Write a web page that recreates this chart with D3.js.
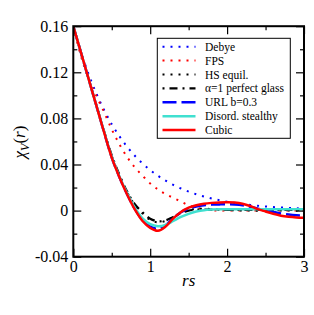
<!DOCTYPE html>
<html>
<head>
<meta charset="utf-8">
<script src="https://cdn.jsdelivr.net/npm/d3@7"></script>
<style>
html,body{margin:0;padding:0;background:#fff;}
svg{display:block;}
svg text{font-family:'Liberation Serif','Times New Roman',Times,'DejaVu Serif',serif !important;}
</style>
</head>
<body>
<svg id="chart" width="314" height="315"></svg>
<script>
// ---------- data ----------
const rs = [0,0.1,0.2,0.3,0.4,0.5,0.6,0.7,0.8,0.9,1.0,1.1,1.2,1.3,1.4,1.5,1.6,1.7,1.8,1.9,2.0,2.1,2.2,2.3,2.4,2.5,2.6,2.7,2.8,2.9,3.0];
const debye = [0.160,0.1375,0.1182,0.1016,0.0873,0.0750,0.0645,0.0554,0.0476,0.0409,0.0352,0.0302,0.0260,0.0223,0.0192,0.0165,0.0142,0.0122,0.0105,0.0090,0.0077,0.0066,0.0057,0.0049,0.0042,0.0036,0.0031,0.0027,0.0023,0.0020,0.0017];
const fps = [0.160,0.134,0.1145,0.0995,0.0855,0.0705,0.0575,0.0465,0.0375,0.0303,0.0236,0.0184,0.0142,0.0111,0.0078,0.0046,0.0026,0.0011,0.0003,0,0,0,0,0,0,0,0,0,0,0,0];
const hsEquil = [0.160,0.137,0.114,0.0913,0.0688,0.0475,0.0305,0.0160,0.0048,-0.0025,-0.0080,-0.0102,-0.0090,-0.0055,-0.0018,0.0005,0.0014,0.0016,0.0014,0.0010,0.0006,0.0003,0.0001,0,-0.0001,0,0,0,0,0,0];
const glass = [0.160,0.137,0.114,0.0915,0.069,0.048,0.031,0.0165,0.0055,-0.0015,-0.0070,-0.0093,-0.0085,-0.0055,-0.0022,0.0,0.0008,0.0009,0.0009,0.0008,0.0007,0.0007,0.0007,0.0007,0.0007,0.0007,0.0007,0.0007,0.0007,0.0007,0.0007];
const url = [0.160,0.137,0.114,0.091,0.068,0.046,0.029,0.0142,0.0015,-0.0083,-0.0138,-0.0158,-0.0128,-0.0066,-0.0014,0.0018,0.0036,0.0047,0.0052,0.0054,0.0055,0.0053,0.0047,0.0034,0.0017,0.0002,-0.0012,-0.0025,-0.0034,-0.0040,-0.0043];
const stealthy = [0.160,0.137,0.114,0.091,0.0685,0.0465,0.0295,0.0150,0.0025,-0.0068,-0.0118,-0.0136,-0.0125,-0.0090,-0.0055,-0.0028,-0.0008,0.0004,0.0009,0.0011,0.0011,0.0011,0.0011,0.0011,0.0011,0.0011,0.0011,0.0011,0.0011,0.0011,0.0011];
const cubic = [0.160,0.137,0.114,0.091,0.068,0.046,0.029,0.014,0.001,-0.009,-0.015,-0.0175,-0.0138,-0.0068,-0.0012,0.0025,0.0047,0.0060,0.0067,0.0071,0.0072,0.0070,0.0060,0.0040,0.0013,-0.0008,-0.0028,-0.0044,-0.0054,-0.0060,-0.0063];

const seriesNames = ["Debye","FPS","HS equil.","\u03b1=1 perfect glass","URL b=0.3","Disord. stealthy","Cubic"];
const xMajorTicks = [0,1,2,3];
const xMinorTicks = [0.5,1.5,2.5];
const yMajorTicks = [-0.04,0,0.04,0.08,0.12,0.16];
const yMinorTicks = [-0.02,0.02,0.06,0.10,0.14];
const yTickLabels = ["-0.04","0","0.04","0.08","0.12","0.16"];

// ---------- styles ----------
const styles = [
  {color:"#0000ff", width:2, dash:"2,6"},
  {color:"#ff0000", width:2, dash:"2,6"},
  {color:"#000000", width:2, dash:"2,6"},
  {color:"#000000", width:2.2, dash:"2,5,8,5"},
  {color:"#0000ff", width:2.5, dash:"14,5"},
  {color:"#40e0d0", width:2.5, dash:null},
  {color:"#ff0000", width:2.5, dash:null}
];
const allSeries = [debye,fps,hsEquil,glass,url,stealthy,cubic];
const FONT = "'Liberation Serif','Times New Roman',Times,'DejaVu Serif',serif";

const svg = d3.select("#chart");
const L = 73.3, R = 304, T = 26.2, B = 256.7;
const x = d3.scaleLinear().domain([0,3]).range([L,R]);
const y = d3.scaleLinear().domain([-0.04,0.16]).range([B,T]);

svg.append("defs").append("clipPath").attr("id","clip")
  .append("rect").attr("x",L).attr("y",T).attr("width",R-L).attr("height",B-T);

const line = d3.line().x((d,i)=>x(rs[i])).y(d=>y(d)).curve(d3.curveCatmullRom.alpha(0.5));
const plot = svg.append("g").attr("clip-path","url(#clip)");
allSeries.forEach((s,k)=>{
  plot.append("path").datum(s)
    .attr("d",line)
    .attr("fill","none")
    .attr("stroke",styles[k].color)
    .attr("stroke-width",styles[k].width)
    .attr("stroke-dasharray",styles[k].dash);
});

// axes
const fs = 16;
function styleAxis(g){
  g.attr("font-family",FONT);
  g.select(".domain").remove();
  g.selectAll("line").attr("stroke","#000").attr("stroke-width",1.2);
  g.selectAll("text").attr("font-size",fs).attr("fill","#000").style("font-family",FONT);
}
svg.append("g").attr("transform",`translate(0,${B})`)
  .call(d3.axisBottom(x).tickValues(xMajorTicks).tickSizeInner(-8).tickSizeOuter(0).tickPadding(4).tickFormat(d3.format("d"))).call(styleAxis);
svg.append("g").attr("transform",`translate(0,${B})`)
  .call(d3.axisBottom(x).tickValues(xMinorTicks).tickSizeInner(-4).tickSizeOuter(0).tickFormat("")).call(styleAxis);
svg.append("g").attr("transform",`translate(0,${T})`)
  .call(d3.axisTop(x).tickValues(xMajorTicks).tickSizeInner(-8).tickSizeOuter(0).tickFormat("")).call(styleAxis);
svg.append("g").attr("transform",`translate(0,${T})`)
  .call(d3.axisTop(x).tickValues(xMinorTicks).tickSizeInner(-4).tickSizeOuter(0).tickFormat("")).call(styleAxis);
svg.append("g").attr("transform",`translate(${L},0)`)
  .call(d3.axisLeft(y).tickValues(yMajorTicks).tickSizeInner(-8).tickSizeOuter(0).tickPadding(5).tickFormat((d,i)=>yTickLabels[i])).call(styleAxis);
svg.append("g").attr("transform",`translate(${L},0)`)
  .call(d3.axisLeft(y).tickValues(yMinorTicks).tickSizeInner(-4).tickSizeOuter(0).tickFormat("")).call(styleAxis);
svg.append("g").attr("transform",`translate(${R},0)`)
  .call(d3.axisRight(y).tickValues(yMajorTicks).tickSizeInner(-8).tickSizeOuter(0).tickFormat("")).call(styleAxis);
svg.append("g").attr("transform",`translate(${R},0)`)
  .call(d3.axisRight(y).tickValues(yMinorTicks).tickSizeInner(-4).tickSizeOuter(0).tickFormat("")).call(styleAxis);

// frame
svg.append("rect").attr("x",L).attr("y",T).attr("width",R-L).attr("height",B-T)
  .attr("fill","none").attr("stroke","#000").attr("stroke-width",2);

// axis labels
svg.append("text").attr("x",(L+R)/2).attr("y",286).attr("text-anchor","middle")
  .attr("font-size",17).attr("font-style","italic").style("font-family",FONT).text("rs");
const yl = svg.append("text").attr("transform","translate(25,142) rotate(-90)")
  .attr("text-anchor","middle").attr("font-size",17).attr("font-style","italic").style("font-family",FONT);
yl.append("tspan").text("\u03c7");
yl.append("tspan").attr("font-size",12).attr("dy",4).text("V");
yl.append("tspan").attr("dy",-4).attr("font-style","normal").text("(");
yl.append("tspan").text("r");
yl.append("tspan").attr("font-style","normal").text(")");

// legend
const lg = svg.append("g");
lg.append("rect").attr("x",157.3).attr("y",38.3).attr("width",133).attr("height",100)
  .attr("fill","#fff").attr("stroke","#000").attr("stroke-width",1);
seriesNames.forEach((name,k)=>{
  const cy = 46.7 + k*13.9;
  lg.append("line").attr("x1",162.5).attr("x2",195.5).attr("y1",cy).attr("y2",cy)
    .attr("stroke",styles[k].color).attr("stroke-width",styles[k].width)
    .attr("stroke-dasharray",styles[k].dash);
  lg.append("text").attr("x",205).attr("y",cy).attr("dy","0.35em")
    .attr("font-size",11.5).style("font-family",FONT).text(name);
});
</script>
</body>
</html>
